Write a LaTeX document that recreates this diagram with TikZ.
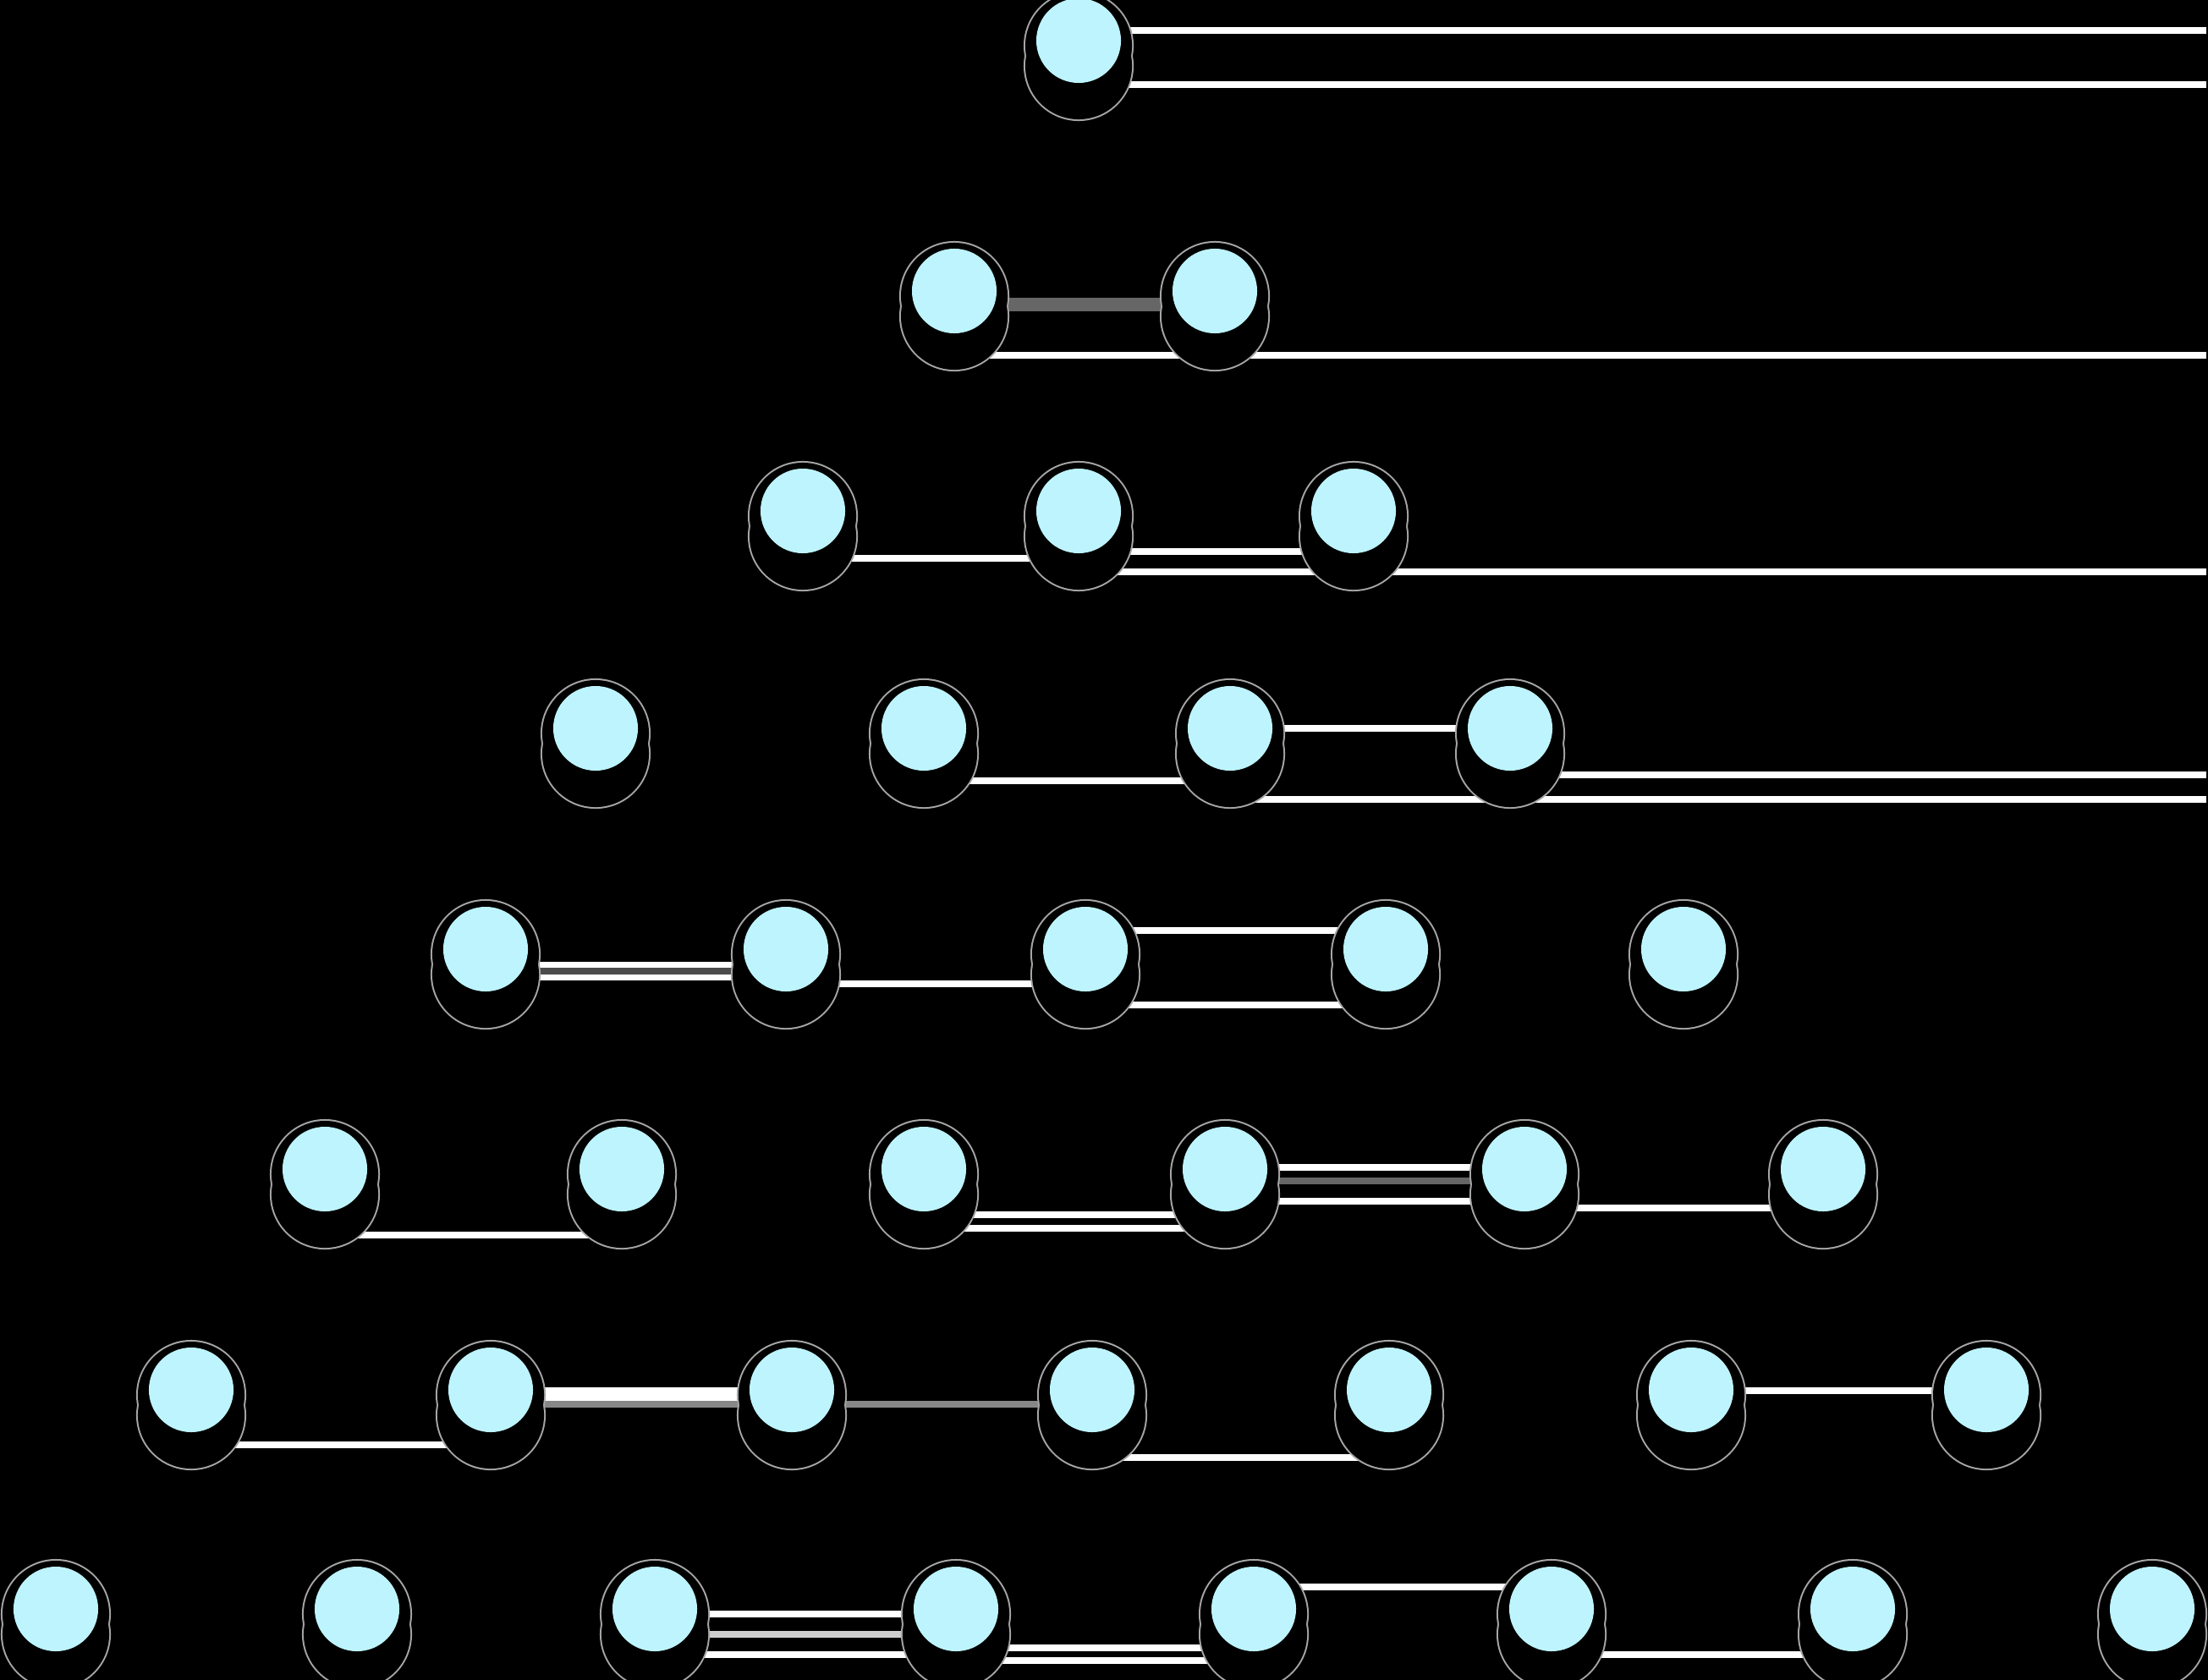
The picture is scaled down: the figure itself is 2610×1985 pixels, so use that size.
\documentclass[tikz,border=0pt]{standalone}
\usepackage{tikz}
\usepackage{xcolor}
\definecolor{beadcyan}{RGB}{189,244,253}
\definecolor{halogray}{gray}{0.65}
\definecolor{railmid}{gray}{0.4}
\definecolor{raildark}{gray}{0.3}
\definecolor{raillight}{gray}{0.53}
\definecolor{railpale}{gray}{0.8}
\tikzset{bead/.style={circle,fill=beadcyan,minimum size=1cm,inner sep=0pt,
   general shadow={fill=halogray,shadow scale=1.3,shadow yshift=-0.046cm},
   general shadow={fill=halogray,shadow scale=1.3,shadow yshift=-0.2308cm},
   general shadow={fill=black,shadow scale=1.26,shadow yshift=-0.0476cm},
   general shadow={fill=black,shadow scale=1.26,shadow yshift=-0.238cm}},
 wire/.style={draw=white,line width=0.075cm},
 }
\usetikzlibrary{calc}
\usetikzlibrary{shadows}
\pgfdeclarelayer{back}
\pgfdeclarelayer{wires}
\pgfsetlayers{back,wires,main}

\begin{document}
\begin{tikzpicture}[x=0.01cm,y=-0.01cm]
    \useasboundingbox (0,0) rectangle (2610,1985);
    \begin{pgfonlayer}{back}
        \fill[black] (-60,-60) rectangle (2670,2045);
    \end{pgfonlayer}
    \coordinate (rim) at (2608,0);

    % rows of beads
    \node[bead] (n11) at (1275,48) {};

    \node[bead] (n21) at (1128,344) {};
    \node[bead] (n22) at (1436,344) {};

    \node[bead] (n31) at (949,604) {};
    \node[bead] (n32) at (1275,604) {};
    \node[bead] (n33) at (1600,604) {};

    \node[bead] (n41) at (704,861) {};
    \node[bead] (n42) at (1092,861) {};
    \node[bead] (n43) at (1454,861) {};
    \node[bead] (n44) at (1785,861) {};

    \node[bead] (n51) at (574,1122) {};
    \node[bead] (n52) at (929,1122) {};
    \node[bead] (n53) at (1283,1122) {};
    \node[bead] (n54) at (1638,1122) {};
    \node[bead] (n55) at (1990,1122) {};

    \node[bead] (n61) at (384,1382) {};
    \node[bead] (n62) at (735,1382) {};
    \node[bead] (n63) at (1092,1382) {};
    \node[bead] (n64) at (1448,1382) {};
    \node[bead] (n65) at (1802,1382) {};
    \node[bead] (n66) at (2155,1382) {};

    \node[bead] (n71) at (226,1643) {};
    \node[bead] (n72) at (580,1643) {};
    \node[bead] (n73) at (936,1643) {};
    \node[bead] (n74) at (1291,1643) {};
    \node[bead] (n75) at (1642,1643) {};
    \node[bead] (n76) at (1999,1643) {};
    \node[bead] (n77) at (2348,1643) {};

    \node[bead] (n81) at (66,1902) {};
    \node[bead] (n82) at (422,1902) {};
    \node[bead] (n83) at (774,1902) {};
    \node[bead] (n84) at (1130,1902) {};
    \node[bead] (n85) at (1482,1902) {};
    \node[bead] (n86) at (1834,1902) {};
    \node[bead] (n87) at (2190,1902) {};
    \node[bead] (n88) at (2544,1902) {};

    % rails behind the beads
    \begin{pgfonlayer}{wires}
        \draw[wire] ($(n11)+(0,-12)$) -- ($(n11 -| rim)+(0,-12)$);
        \draw[wire] ($(n11)+(0,52)$) -- ($(n11 -| rim)+(0,52)$);

        \draw[railmid, line width=0.16cm] ($(n21)+(0,16)$) -- ($(n22)+(0,16)$);
        \draw[wire] ($(n21)+(0,76)$) -- ($(n21 -| rim)+(0,76)$);

        \draw[wire] ($(n31)+(0,56)$) -- ($(n32)+(0,56)$);
        \draw[wire] ($(n32)+(0,48)$) -- ($(n33)+(0,48)$);
        \draw[wire] ($(n32)+(0,72)$) -- ($(n32 -| rim)+(0,72)$);

        \draw[wire] (n43.center) -- (n44.center);
        \draw[wire] ($(n42)+(0,62)$) -- ($(n43)+(0,62)$);
        \draw[wire] ($(n43)+(0,84)$) -- ($(n43 -| rim)+(0,84)$);
        \draw[wire] ($(n44)+(0,55)$) -- ($(n44 -| rim)+(0,55)$);

        \draw[white, line width=0.22cm] ($(n51)+(0,26)$) -- ($(n52)+(0,26)$);
        \draw[raildark, line width=0.08cm] ($(n51)+(0,26)$) -- ($(n52)+(0,26)$);
        \draw[wire] ($(n52)+(0,41)$) -- ($(n53)+(0,41)$);
        \draw[wire] ($(n53)+(0,-22)$) -- ($(n54)+(0,-22)$);
        \draw[wire] ($(n53)+(0,66)$) -- ($(n54)+(0,66)$);

        \draw[wire] ($(n61)+(0,78)$) -- ($(n62)+(0,78)$);
        \draw[wire] ($(n63)+(0,54)$) -- ($(n64)+(0,54)$);
        \draw[wire] ($(n63)+(0,70)$) -- ($(n64)+(0,70)$);
        \draw[wire] ($(n64)+(0,-2)$) -- ($(n65)+(0,-2)$);
        \draw[railmid, line width=0.08cm] ($(n64)+(0,14)$) -- ($(n65)+(0,14)$);
        \draw[wire] ($(n64)+(0,38)$) -- ($(n65)+(0,38)$);
        \draw[wire] ($(n65)+(0,46)$) -- ($(n66)+(0,46)$);

        \draw[wire] ($(n71)+(0,65)$) -- ($(n72)+(0,65)$);
        \draw[white, line width=0.16cm] ($(n72)+(0,5)$) -- ($(n73)+(0,5)$);
        \draw[raillight, line width=0.08cm] ($(n72)+(0,17)$) -- ($(n73)+(0,17)$);
        \draw[raillight, line width=0.08cm] ($(n73)+(0,17)$) -- ($(n74)+(0,17)$);
        \draw[wire] ($(n74)+(0,80)$) -- ($(n75)+(0,80)$);
        \draw[wire] ($(n76)+(0,1)$) -- ($(n77)+(0,1)$);

        \draw[wire] ($(n83)+(0,6)$) -- ($(n84)+(0,6)$);
        \draw[railpale, line width=0.08cm] ($(n83)+(0,30)$) -- ($(n84)+(0,30)$);
        \draw[wire] ($(n83)+(0,54)$) -- ($(n84)+(0,54)$);
        \draw[wire] ($(n84)+(0,46)$) -- ($(n85)+(0,46)$);
        \draw[wire] ($(n84)+(0,61)$) -- ($(n85)+(0,61)$);
        \draw[wire] ($(n85)+(0,-26)$) -- ($(n86)+(0,-26)$);
        \draw[wire] ($(n86)+(0,54)$) -- ($(n87)+(0,54)$);
    \end{pgfonlayer}
\end{tikzpicture}
\end{document}
